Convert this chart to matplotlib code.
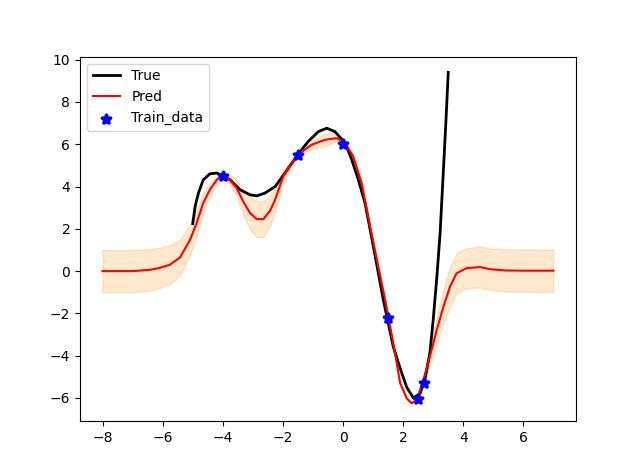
import matplotlib
matplotlib.use('Agg')
from matplotlib import pyplot as plt
import numpy as np

# true function
true_x = [-5.0, -4.92, -4.81, -4.65, -4.43, -4.2, -4.0, -3.76, -3.43, -3.09, -2.87,
          -2.6, -2.26, -1.93, -1.5, -1.16, -0.82, -0.54, -0.27, 0.07, 0.29, 0.51,
          0.73, 0.87, 1.03, 1.34, 1.67, 1.9, 2.12, 2.34, 2.56, 2.73, 2.89, 3.0,
          3.12, 3.23, 3.34, 3.42, 3.5]
true_y = [2.25, 3.06, 3.69, 4.32, 4.6, 4.64, 4.5, 4.32, 3.85, 3.61, 3.56,
          3.69, 4.0, 4.64, 5.52, 6.13, 6.6, 6.76, 6.6, 6.06, 5.27, 4.32,
          3.22, 2.2, 1.0, -1.36, -3.57, -4.6, -5.5, -6.0, -5.8, -5.1, -3.85, -2.3,
          -0.3, 1.8, 4.8, 7.0, 9.4]

# GP prediction: mean and standard deviation
pred_x = [-8, -7, -6.42, -6.1, -5.76, -5.42, -5.09, -4.87, -4.65, -4.43, -4.2, -4.04,
          -3.76, -3.54, -3.32, -3.09, -2.87, -2.65, -2.43, -2.26, -1.99, -1.71, -1.43,
          -1.04, -0.6, -0.21, 0.07, 0.34, 0.62, 0.9, 1.06, 1.4, 1.67, 1.9, 2.12, 2.28,
          2.45, 2.67, 2.89, 3.12, 3.34, 3.56, 3.78, 4.11, 4.56, 4.89, 5.4, 6, 7]
pred_y = [0, 0, 0.06, 0.15, 0.3, 0.65, 1.48, 2.27, 3.22, 3.85, 4.32, 4.51,
          4.32, 3.93, 3.29, 2.74, 2.46, 2.46, 2.85, 3.37, 4.48, 5.11, 5.58,
          5.98, 6.21, 6.29, 6.06, 5.42, 4.16, 2.11, 1.0, -1.36, -3.41, -5.3, -6.02, -6.25,
          -6.1, -5.15, -4.04, -2.78, -1.68, -0.73, -0.1, 0.14, 0.19, 0.09, 0.03, 0.02, 0.02]
pred_std = [1.0, 1.0, 0.98, 0.96, 0.92, 0.85, 0.72, 0.6, 0.45, 0.3, 0.12, 0.04,
            0.18, 0.4, 0.6, 0.78, 0.86, 0.85, 0.72, 0.55, 0.3, 0.12, 0.05,
            0.22, 0.3, 0.15, 0.05, 0.1, 0.15, 0.16, 0.13, 0.05, 0.06, 0.07, 0.06, 0.04,
            0.03, 0.04, 0.4, 0.65, 0.82, 0.92, 0.95, 0.95, 0.97, 0.98, 1.0, 1.0, 1.0]

# training points
train_x = [-4, -1.5, 0, 1.5, 2.5, 2.7]
train_y = [4.5, 5.5, 6.0, -2.2, -6.05, -5.3]

mu = np.array(pred_y)
sd = np.array(pred_std)

plt.figure(figsize=(6.4, 4.73), dpi=100)
plt.plot(true_x, true_y, 'k', linewidth=2, label='True')
plt.plot(pred_x, pred_y, 'r', linewidth=1.5, label='Pred')
plt.fill_between(pred_x, mu - sd, mu + sd, color='darkorange', alpha=0.2)
plt.scatter(train_x, train_y, c='b', marker='*', s=40, linewidths=2.5, label='Train_data', zorder=3)
plt.ylim(-7.09, 10.14)
plt.legend(loc='upper left')
plt.savefig('out.png', dpi=100)
